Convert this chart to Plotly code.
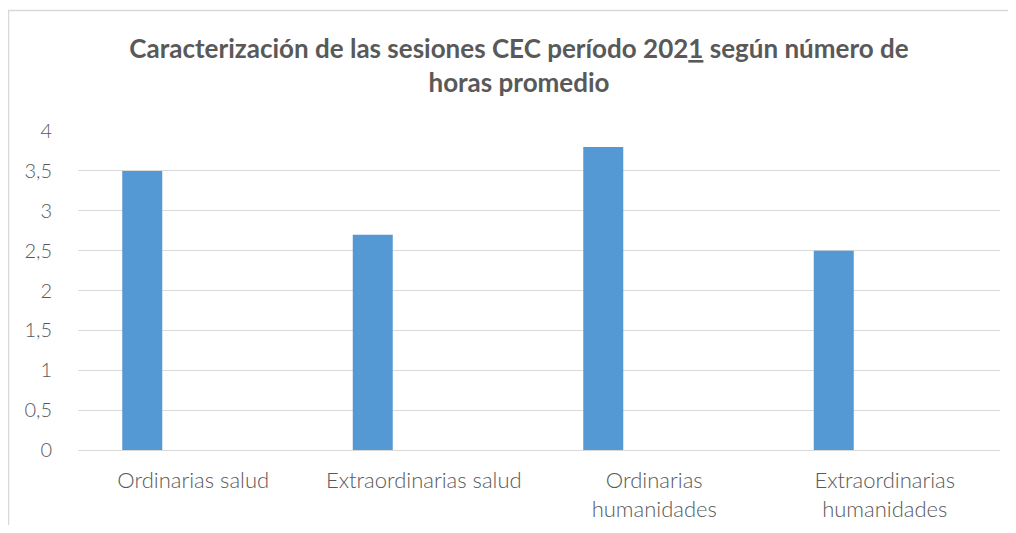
import plotly.graph_objects as go

categories = ["Ordinarias salud", "Extraordinarias salud", "Ordinarias<br>humanidades", "Extraordinarias<br>humanidades"]
values = [3.5, 2.7, 3.8, 2.5]
y_ticks = [0, 0.5, 1, 1.5, 2, 2.5, 3, 3.5, 4]
y_tick_labels = ["0", "0,5", "1", "1,5", "2", "2,5", "3", "3,5", "4"]
title_text = "<b>Caracterización de las sesiones CEC período 202<u>1</u> según número de<br>horas promedio</b>"

# page has an 8px body margin, so the figure is drawn 8px right/down
OFF = 8
W, H = 1016 - 2 * OFF, 533 - 2 * OFF
L, T = 78 - OFF, 131 - OFF
R = (1016 - 1000) - OFF
B = (533 - 450) - OFF
pw, ph = W - L - R, H - T - B

def px_x(x):  # screen px -> paper
    return (x - OFF - L) / pw

def px_y(y):
    return (H - B - (y - OFF)) / ph

gray = "#595959"
fig = go.Figure()
fig.add_trace(go.Bar(
    x=categories, y=values,
    marker=dict(color="#5498D4", line=dict(width=0)),
    width=0.1735, offset=-0.308,
))

fig.update_layout(
    width=W, height=H,
    margin=dict(l=L, r=R, t=T, b=B),
    paper_bgcolor="white", plot_bgcolor="white",
    showlegend=False,
    title=dict(text=title_text, x=(519 - OFF) / W, xref="container", xanchor="center",
               y=1 - 50 / H, yref="container", yanchor="top",
               font=dict(family="Lato", size=26, color=gray)),
    xaxis=dict(showgrid=False, showline=False, ticks="", zeroline=False,
               automargin=False,
               tickfont=dict(family="Lato", size=22, color=gray, weight=300),
               ticklabelstandoff=15),
    yaxis=dict(range=[0, 4], tickvals=y_ticks, ticktext=y_tick_labels,
               automargin=False,
               showgrid=True, gridcolor="#D9D9D9", gridwidth=1,
               zeroline=True, zerolinecolor="#D9D9D9", zerolinewidth=1,
               showline=False, ticks="",
               tickfont=dict(family="Lato", size=20, color=gray, weight=300),
               ticklabelstandoff=25),
    shapes=[
        dict(type="line", xref="paper", yref="paper", x0=px_x(8.5), x1=px_x(8.5),
             y0=px_y(10), y1=px_y(540), line=dict(color="#D9D9D9", width=1.5)),
        dict(type="line", xref="paper", yref="paper", x0=px_x(8), x1=px_x(1020),
             y0=px_y(10.5), y1=px_y(10.5), line=dict(color="#D9D9D9", width=1.5)),
    ],
)

fig.write_html("out.html")
